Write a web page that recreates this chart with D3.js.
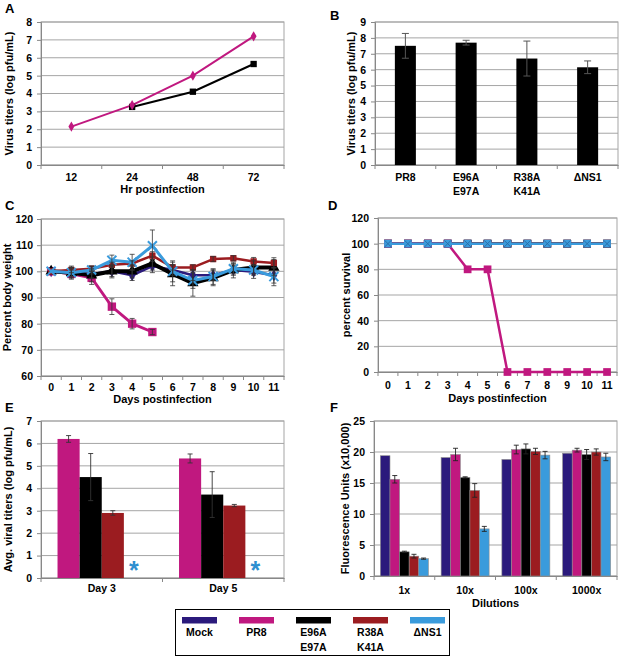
<!DOCTYPE html>
<html><head><meta charset="utf-8">
<script src="https://cdn.jsdelivr.net/npm/d3@7"></script>
<style>
body{margin:0;background:#fff}
svg text{font-family:"Liberation Sans",Arial,Helvetica,sans-serif;font-weight:bold;fill:#000}
</style></head><body>
<svg id="c" width="619" height="657"></svg>
<script>
// ---------- DATA ----------
const seriesNames = ["Mock","PR8","E96A\nE97A","R38A\nK41A","ΔNS1"];
const seriesColors = ["#2B1A7C","#C0187F","#000000","#9B1C20","#3A9BDC"];

// Panel A
const hoursA = ["12","24","48","72"];
const titerA_PR8 = [2.15,3.35,5.0,7.2];
const titerA_E96A = [null,3.25,4.1,5.65];
const yTicksA = [0,1,2,3,4,5,6,7,8];

// Panel B
const virusB = ["PR8","E96A\nE97A","R38A\nK41A","ΔNS1"];
const titerB = [7.5,7.7,6.7,6.15];
const errB = [0.78,0.15,1.1,0.4];
const yTicksB = [0,1,2,3,4,5,6,7,8,9];

// Panel C (percent body weight)
const days = ["0","1","2","3","4","5","6","7","8","9","10","11"];
const weightMock = [100,99.5,99,100,98.5,102,100.5,98.5,98.5,100.5,99.8,98.5];
const weightPR8  = [100,99,97.5,86.5,80,76.8];
const weightE96A = [100,99.5,98.5,100,100,103,99,95.5,97.5,100.5,101.5,101.5];
const weightR38A = [100,100.5,101,102.5,103,106,101.5,101.5,104.7,105,103.8,103.2];
const weightNS1  = [100,99.5,100.5,104.2,103.5,109.8,100,96.5,98,101,100.5,98];
const weightErrMock = [0,1.5,1.5,2,2,2.5,2,2,2,2,2.5,3];
const weightErrPR8  = [0,1.5,2.5,3,2,1];
const weightErrE96A = [0,2.5,2.5,2.5,2.5,2.5,4.5,5,3,3,2.5,3];
const weightErrR38A = [0,1,1,1,1,1.5,1,1,1,1,1.5,2];
const weightErrNS1  = [0,2,1.5,2,3,6,4,3,3,2,2,3.5];
const yTicksC = [60,70,80,90,100,110,120];

// Panel D (percent survival)
const survMock = [100,100,100,100,100,100,100,100,100,100,100,100];
const survPR8  = [100,100,100,100,80,80,0,0,0,0,0,0];
const survE96A = [100,100,100,100,100,100,100,100,100,100,100,100];
const survR38A = [100,100,100,100,100,100,100,100,100,100,100,100];
const survNS1  = [100,100,100,100,100,100,100,100,100,100,100,100];
const yTicksD = [0,20,40,60,80,100,120];

// Panel E (lung titers)
const daysE = ["Day 3","Day 5"];
const seriesE = ["PR8","E96A","R38A","ΔNS1"];
const titerE_PR8  = [6.2,5.33];
const titerE_E96A = [4.5,3.72];
const titerE_R38A = [2.9,3.23];
const titerE_NS1  = [0,0];
const errE_PR8  = [0.15,0.2];
const errE_E96A = [1.05,1.02];
const errE_R38A = [0.1,0.05];
const yTicksE = [0,1,2,3,4,5,6,7];

// Panel F (fluorescence)
const dilutions = ["1x","10x","100x","1000x"];
const fluorMock = [19.4,19.1,18.8,19.8];
const fluorPR8  = [15.6,19.6,20.4,20.3];
const fluorE96A = [3.9,15.9,20.5,19.6];
const fluorR38A = [3.2,13.8,20.1,20.0];
const fluorNS1  = [2.8,7.6,19.5,19.2];
const fluorErrMock = [0,0,0,0];
const fluorErrPR8  = [0.6,1.0,0.7,0.3];
const fluorErrE96A = [0.1,0.1,0.8,0.8];
const fluorErrR38A = [0.3,1.1,0.5,0.5];
const fluorErrNS1  = [0.1,0.4,0.6,0.6];
const yTicksF = [0,5,10,15,20,25];

// ---------- DRAW ----------
const svg = d3.select("#c");
const FONT = '"Liberation Sans",Arial,Helvetica,sans-serif';
const GRID = "#a5a5a5";

function multiline(sel, lineH){
  sel.each(function(d){
    const t = d3.select(this);
    const parts = String(d).split("\n");
    if(parts.length<2) return;
    t.text(null);
    parts.forEach((p,i)=>t.append("tspan").attr("x",0).attr("dy", i===0 ? t.attr("dy") : lineH+"px").text(p));
  });
}

function panel(o){
  const g = svg.append("g");
  const x = d3.scaleBand().domain(o.cats).range([o.left,o.right]);
  const y = d3.scaleLinear().domain(o.yDomain).range([o.bottom,o.top]);
  g.append("g").selectAll("line").data(o.yTicks).join("line")
    .attr("x1",o.left).attr("x2",o.right)
    .attr("y1",d=>y(d)).attr("y2",d=>y(d))
    .attr("stroke",GRID).attr("stroke-width",1);
  g.append("rect").attr("x",o.left).attr("y",o.top)
    .attr("width",o.right-o.left).attr("height",o.bottom-o.top)
    .attr("fill","none").attr("stroke",GRID);
  const ya = g.append("g").attr("transform",`translate(${o.left},0)`)
    .call(d3.axisLeft(y).tickValues(o.yTicks).tickFormat(d3.format("d")).tickSize(4).tickPadding(o.yPad||4));
  ya.attr("font-family",FONT).attr("font-size",10.5);
  ya.select(".domain").attr("stroke","#888");
  ya.selectAll(".tick line").attr("stroke","#888");
  const xa = g.append("g").attr("transform",`translate(0,${o.bottom})`)
    .call(d3.axisBottom(x).tickSize(0).tickPadding(o.xPad));
  xa.attr("font-family",FONT).attr("font-size",10.5);
  xa.select(".domain").attr("stroke","#888");
  xa.selectAll(".tick text").call(multiline, 14);
  const bounds = [o.left].concat(o.cats.map(c=>x(c)+x.bandwidth()));
  g.append("g").selectAll("line").data(bounds).join("line")
    .attr("x1",d=>d).attr("x2",d=>d).attr("y1",o.bottom).attr("y2",o.bottom+4)
    .attr("stroke","#888");
  if(o.xTitle) g.append("text").attr("x",(o.left+o.right)/2).attr("y",o.xTitleY)
    .attr("text-anchor","middle").attr("font-size",11).text(o.xTitle);
  g.append("text").attr("transform",`translate(${o.yTitleX},${(o.top+o.bottom)/2}) rotate(-90)`)
    .attr("text-anchor","middle").attr("dy","0.35em").attr("font-size",11).text(o.yTitle);
  g.append("text").attr("x",o.letter[0]).attr("y",o.letter[1]).attr("dy","0.35em")
    .attr("font-size",13).text(o.letterText);
  return {g,x,y};
}

function errBar(g, cx, yHi, yLo, cap, color, w){
  const c = color||"#222";
  g.append("line").attr("x1",cx).attr("x2",cx).attr("y1",yHi).attr("y2",yLo).attr("stroke",c).attr("stroke-width",w||0.9);
  g.append("line").attr("x1",cx-cap).attr("x2",cx+cap).attr("y1",yHi).attr("y2",yHi).attr("stroke",c).attr("stroke-width",w||0.9);
  g.append("line").attr("x1",cx-cap).attr("x2",cx+cap).attr("y1",yLo).attr("y2",yLo).attr("stroke",c).attr("stroke-width",w||0.9);
}

// Panel A
(function(){
  const p = panel({left:41,right:284,top:22,bottom:165,cats:hoursA,yDomain:[0,8],yTicks:yTicksA,
    xPad:8.5,yPad:5,xTitle:"Hr postinfection",xTitleY:193,yTitle:"Virus titers (log pfu/mL)",yTitleX:9,
    letter:[5,8],letterText:"A"});
  const cx = d=>p.x(d)+p.x.bandwidth()/2;
  const line = d3.line().defined(d=>d[1]!=null).x(d=>cx(d[0])).y(d=>p.y(d[1]));
  const dBlack = hoursA.map((h,i)=>[h,titerA_E96A[i]]);
  const dPink = hoursA.map((h,i)=>[h,titerA_PR8[i]]);
  p.g.append("path").attr("d",line(dBlack)).attr("fill","none").attr("stroke","#000").attr("stroke-width",2);
  p.g.append("path").attr("d",line(dPink)).attr("fill","none").attr("stroke",seriesColors[1]).attr("stroke-width",2);
  p.g.append("g").selectAll("path").data(dBlack.filter(d=>d[1]!=null)).join("path")
    .attr("transform",d=>`translate(${cx(d[0])},${p.y(d[1])})`)
    .attr("d",d3.symbol(d3.symbolSquare,40)).attr("fill","#000");
  p.g.append("g").selectAll("path").data(dPink).join("path")
    .attr("transform",d=>`translate(${cx(d[0])},${p.y(d[1])})`)
    .attr("d",d3.symbol(d3.symbolDiamond,30)).attr("fill",seriesColors[1]);
})();

// Panel B
(function(){
  const p = panel({left:375,right:618,top:22,bottom:165,cats:virusB,yDomain:[0,9],yTicks:yTicksB,
    xPad:8.5,yPad:5,yTitle:"Virus titers (log pfu/mL)",yTitleX:351,letter:[330,15],letterText:"B"});
  const bw = p.x.bandwidth();
  p.g.append("g").selectAll("rect").data(virusB).join("rect")
    .attr("x",d=>p.x(d)+bw*0.327).attr("width",bw*0.346)
    .attr("y",(d,i)=>p.y(titerB[i])).attr("height",(d,i)=>p.y(0)-p.y(titerB[i]))
    .attr("fill","#000");
  virusB.forEach((d,i)=>errBar(p.g,p.x(d)+bw/2,p.y(titerB[i]+errB[i]),p.y(titerB[i]-errB[i]),3.5,"#555",1));
})();

// Panel C
(function(){
  const p = panel({left:41,right:284,top:219,bottom:376,cats:days,yDomain:[60,120],yTicks:yTicksC,
    xPad:7.5,xTitle:"Days postinfection",xTitleY:403,yTitle:"Percent body weight",yTitleX:7,
    letter:[5,205],letterText:"C"});
  const cx = d=>p.x(d)+p.x.bandwidth()/2;
  const sets = [
    {v:weightMock,e:weightErrMock,c:seriesColors[0],w:2.5,sym:d3.symbolDiamond,s:40},
    {v:weightPR8,e:weightErrPR8,c:seriesColors[1],w:2.8,sym:d3.symbolSquare,s:70},
    {v:weightE96A,e:weightErrE96A,c:seriesColors[2],w:4,sym:d3.symbolTriangle,s:55},
    {v:weightR38A,e:weightErrR38A,c:seriesColors[3],w:2.5,sym:d3.symbolSquare,s:40},
    {v:weightNS1,e:weightErrNS1,c:seriesColors[4],w:3,sym:d3.symbolTimes,s:55,stroke:true}
  ];
  const line = d3.line().x((d,i)=>cx(days[i])).y(d=>p.y(d));
  sets.forEach(s=>{
    p.g.append("path").attr("d",line(s.v)).attr("fill","none").attr("stroke",s.c).attr("stroke-width",s.w).attr("stroke-linejoin","round");
    const m = p.g.append("g").selectAll("path").data(s.v).join("path")
      .attr("transform",(d,i)=>`translate(${cx(days[i])},${p.y(d)})`)
      .attr("d",d3.symbol(s.sym,s.s));
    if(s.stroke) m.attr("fill","none").attr("stroke",s.c).attr("stroke-width",2);
    else m.attr("fill",s.c);
  });
  sets.forEach(s=>{
    s.v.forEach((d,i)=>{ if(s.e[i]>0) errBar(p.g,cx(days[i]),p.y(d+s.e[i]),p.y(d-s.e[i]),2.5,"#333",0.8); });
  });
})();

// Panel D
(function(){
  const p = panel({left:378,right:617,top:218,bottom:372,cats:days,yDomain:[0,120],yTicks:yTicksD,
    xPad:9.5,yPad:5,xTitle:"Days postinfection",xTitleY:402,yTitle:"percent survival",yTitleX:346,
    letter:[328,205],letterText:"D"});
  const cx = d=>p.x(d)+p.x.bandwidth()/2;
  const sets = [
    {v:survMock,c:seriesColors[0]},
    {v:survE96A,c:seriesColors[2]},
    {v:survR38A,c:seriesColors[3]},
    {v:survPR8,c:seriesColors[1]},
    {v:survNS1,c:seriesColors[4]}
  ];
  const line = d3.line().x((d,i)=>cx(days[i])).y(d=>p.y(d));
  sets.forEach(s=>{
    p.g.append("path").attr("d",line(s.v)).attr("fill","none").attr("stroke",s.c).attr("stroke-width",2.5);
    p.g.append("g").selectAll("path").data(s.v).join("path")
      .attr("transform",(d,i)=>`translate(${cx(days[i])},${p.y(d)})`)
      .attr("d",d3.symbol(d3.symbolSquare,60)).attr("fill",s.c);
  });
  p.g.append("g").selectAll("path").data(survNS1).join("path")
    .attr("transform",(d,i)=>`translate(${cx(days[i])},${p.y(d)})`)
    .attr("d",d3.symbol(d3.symbolTimes,30)).attr("fill","none").attr("stroke","#2a6fa8").attr("stroke-width",1);
})();

// Panel E
(function(){
  const p = panel({left:41,right:284,top:421,bottom:578,cats:daysE,yDomain:[0,7],yTicks:yTicksE,
    xPad:6.5,yPad:5,yTitle:"Avg. viral titers (log pfu/mL)",yTitleX:8,letter:[5,407],letterText:"E"});
  const bw = p.x.bandwidth();
  const xi = d3.scaleBand().domain(seriesE).range([bw*0.136,bw*0.864]);
  const vals = [titerE_PR8,titerE_E96A,titerE_R38A,titerE_NS1];
  const errs = [errE_PR8,errE_E96A,errE_R38A,null];
  const cols = [seriesColors[1],seriesColors[2],seriesColors[3],seriesColors[4]];
  daysE.forEach((day,j)=>{
    seriesE.forEach((s,k)=>{
      const v = vals[k][j];
      const x0 = p.x(day)+xi(s);
      if(v>0){
        p.g.append("rect").attr("x",x0).attr("width",xi.bandwidth()).attr("y",p.y(v)).attr("height",p.y(0)-p.y(v)).attr("fill",cols[k]);
      } else {
        p.g.append("text").attr("x",x0+xi.bandwidth()/2-1).attr("y",p.y(0)+1)
          .attr("text-anchor","middle").attr("font-size",25).style("fill","#2E8FD0").text("*");
      }
    });
    seriesE.forEach((s,k)=>{
      const v = vals[k][j];
      if(errs[k]) errBar(p.g,p.x(day)+xi(s)+xi.bandwidth()/2,p.y(v+errs[k][j]),p.y(v-errs[k][j]),2.5,"#333",0.9);
    });
  });
})();

// Panel F
(function(){
  const p = panel({left:374,right:617,top:421,bottom:576,cats:dilutions,yDomain:[0,25],yTicks:yTicksF,
    xPad:10.5,yPad:5,xTitle:"Dilutions",xTitleY:607,yTitle:"Fluorescence Units (x10,000)",yTitleX:345,
    letter:[330,407],letterText:"F"});
  const bw = p.x.bandwidth();
  const xi = d3.scaleBand().domain(seriesNames).range([bw*0.105,bw*0.895]);
  const vals = [fluorMock,fluorPR8,fluorE96A,fluorR38A,fluorNS1];
  const errs = [fluorErrMock,fluorErrPR8,fluorErrE96A,fluorErrR38A,fluorErrNS1];
  dilutions.forEach((dl,j)=>{
    seriesNames.forEach((s,k)=>{
      const v = vals[k][j];
      p.g.append("rect").attr("x",p.x(dl)+xi(s)).attr("width",xi.bandwidth())
        .attr("y",p.y(v)).attr("height",p.y(0)-p.y(v))
        .attr("fill",seriesColors[k]).attr("stroke","#8c8c8c").attr("stroke-width",0.6);
    });
    seriesNames.forEach((s,k)=>{
      const v = vals[k][j], e = errs[k][j];
      if(e>0) errBar(p.g,p.x(dl)+xi(s)+xi.bandwidth()/2,p.y(v+e),p.y(v-e),2.5,"#222",0.9);
    });
  });
})();

// Legend
(function(){
  const g = svg.append("g");
  g.append("rect").attr("x",175.5).attr("y",609.5).attr("width",274).attr("height",46)
    .attr("fill","#fff").attr("stroke","#000").attr("stroke-width",1);
  const lx = d3.scaleBand().domain(seriesNames).range([182,467]);
  seriesNames.forEach((s,k)=>{
    g.append("rect").attr("x",lx(s)).attr("y",617).attr("width",35).attr("height",6.5).attr("fill",seriesColors[k]);
    const parts = s.split("\n");
    parts.forEach((t,i)=>{
      g.append("text").attr("x",lx(s)+17.5).attr("y",632+i*15).attr("dy","0.35em")
        .attr("text-anchor","middle").attr("font-size",10.5).text(t);
    });
  });
})();
</script>
</body></html>
